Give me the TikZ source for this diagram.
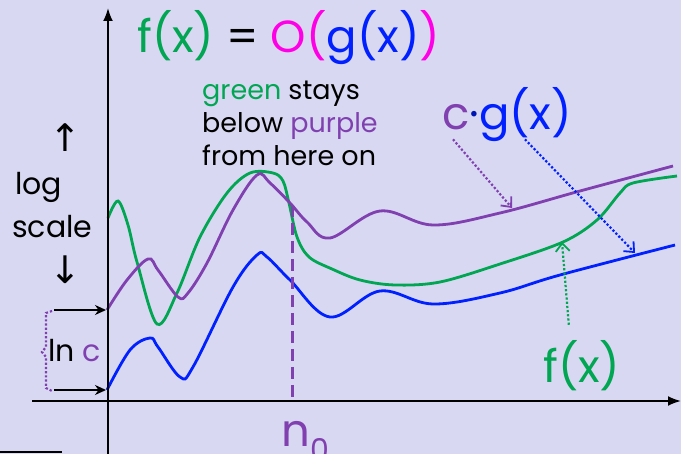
\documentclass[tikz,border=0pt]{standalone}
\usepackage{fontspec}
\setmainfont{Poppins}
\newfontfamily\flechas{DejaVu Sans}
\usetikzlibrary{arrows.meta}
\definecolor{fondo}{RGB}{216,216,242}
\definecolor{verde}{RGB}{0,166,81}
\definecolor{morado}{RGB}{128,64,176}
\definecolor{azul}{RGB}{0,32,255}
\definecolor{rosa}{RGB}{255,0,230}
\newcommand{\grande}{\fontsize{45}{50}\selectfont}
\newcommand{\medio}{\fontsize{27}{32}\selectfont}
\tikzset{
    >=Stealth,
    eje/.style={line width=2pt},
    curva/.style={line width=2.8pt},
    guia/.style={
        dotted,
        line width=2.2pt,
        -{Straight Barb[length=8pt,width=14pt,line width=1.8pt]}
    },
    marca/.style={line width=2pt, -{Stealth[length=11pt,width=10pt]}},
    texto/.style={inner sep=0pt, anchor=base west}
}

\begin{document}
\begin{tikzpicture}[
    x=1pt,
    y=-1pt
]

    % Fondo
    \fill[fondo] (0,0) rectangle (681,454);
    \useasboundingbox (0,0) rectangle (681,454);

    % Curvas
    \draw[curva, verde] plot[smooth, tension=0.55] coordinates {
        (108,218) (118,201) (128,225) (137,262) (157,324) (177,293)
        (200,237) (227,193) (250,173) (273,173) (283,181) (289,203)
        (297,237) (309,257) (332,269) (360,280) (395,285) (440,282)
        (500,264) (563,242) (597,220) (620,193) (633,183) (677,176)};
    \draw[curva, morado] plot[smooth, tension=0.6] coordinates {
        (107,310) (127,280) (148,259) (158,270) (178,297) (188,293)
        (207,263) (233,210) (257,175) (270,183) (290,203) (307,222)
        (330,238) (380,211) (433,225) (500,213)
        (580,191) (673,166)};
    \draw[curva, azul] plot[smooth, tension=0.6] coordinates {
        (107,390) (130,350) (150,338) (158,347) (180,377) (193,367)
        (233,287) (257,255) (267,257) (290,280) (330,317)
        (380,291) (433,304) (500,293) (560,275) (675,245)};

    % Ejes
    \coordinate (xini) at (32,401);
    \coordinate (xfin) at (681,401);
    \coordinate (yini) at (108,454);
    \coordinate (yfin) at (108,8);
    \draw[eje, -{Latex[length=13pt,width=10pt]}] (xini) -- (xfin);
    \draw[eje, -{Latex[length=13pt,width=10pt]}] (yini) -- (yfin);
    \draw[eje] (0,452) -- (62,452);

    % n_0
    \coordinate (cruce) at (292,205);
    \coordinate (pie) at (292,397);
    \draw[morado, line width=3pt, dash pattern=on 12pt off 6pt] (cruce) -- (pie);
    \node[texto, morado, font=\grande] (n0) at (281,447)
        {n\raisebox{-0.3em}{\fontsize{30}{30}\selectfont 0}};

    % Titulo y textos
    \node[texto, font=\grande] (titulo) at (137,53)
        {\textcolor{verde}{f(x)} = \textcolor{rosa}{O(}\textcolor{azul}{g(x)}\textcolor{rosa}{)}};
    \node[texto, font=\medio] (linea1) at (202,100)
        {\textcolor{verde}{green} stays};
    \node[texto, font=\medio] (linea2) at (202,133)
        {below \textcolor{morado}{purple}};
    \node[texto, font=\medio] (linea3) at (202,166)
        {from here on};

    % Escala logaritmica
    \node[font=\flechas\fontsize{38}{38}\selectfont] (arriba) at (65,138) {↑};
    \node[texto, font=\fontsize{30}{34}\selectfont] (log) at (15,195) {log};
    \node[texto, font=\fontsize{30}{34}\selectfont] (escala) at (12,238) {scale};
    \node[font=\flechas\fontsize{38}{38}\selectfont] (abajo) at (65,270) {↓};

    % ln c
    \coordinate (c1) at (54,310);
    \coordinate (c2) at (106,310);
    \coordinate (c3) at (54,390);
    \coordinate (c4) at (106,390);
    \draw[marca] (c1) -- (c2);
    \draw[marca] (c3) -- (c4);
    \draw[morado, dotted, line width=2.2pt]
        (52,311) -- (46,313) -- (46,347) -- (42,352) -- (46,357) -- (46,388) -- (52,391);
    \node[texto, font=\fontsize{30}{34}\selectfont] (lnc) at (48,362)
        {ln \textcolor{morado}{c}};

    % Etiquetas de las curvas
    \node[texto, font=\grande] (cg) at (442,130)
        {\textcolor{morado}{c}\textcolor{azul!70!black}{·}\textcolor{azul}{g(x)}};
    \node[texto, verde, font=\grande] (fx) at (543,383) {f(x)};

    \coordinate (pmorado) at (512,208);
    \coordinate (pazul) at (635,253);
    \coordinate (pverde) at (562,242);
    \draw[guia, morado] ([xshift=11pt,yshift=3pt]cg.south west) -- (pmorado);
    \draw[guia, azul] ([xshift=83pt,yshift=3pt]cg.south west) -- (pazul);
    \draw[guia, verde] ([xshift=-13pt,yshift=16pt]fx.north) -- (pverde);

\end{tikzpicture}
\end{document}
